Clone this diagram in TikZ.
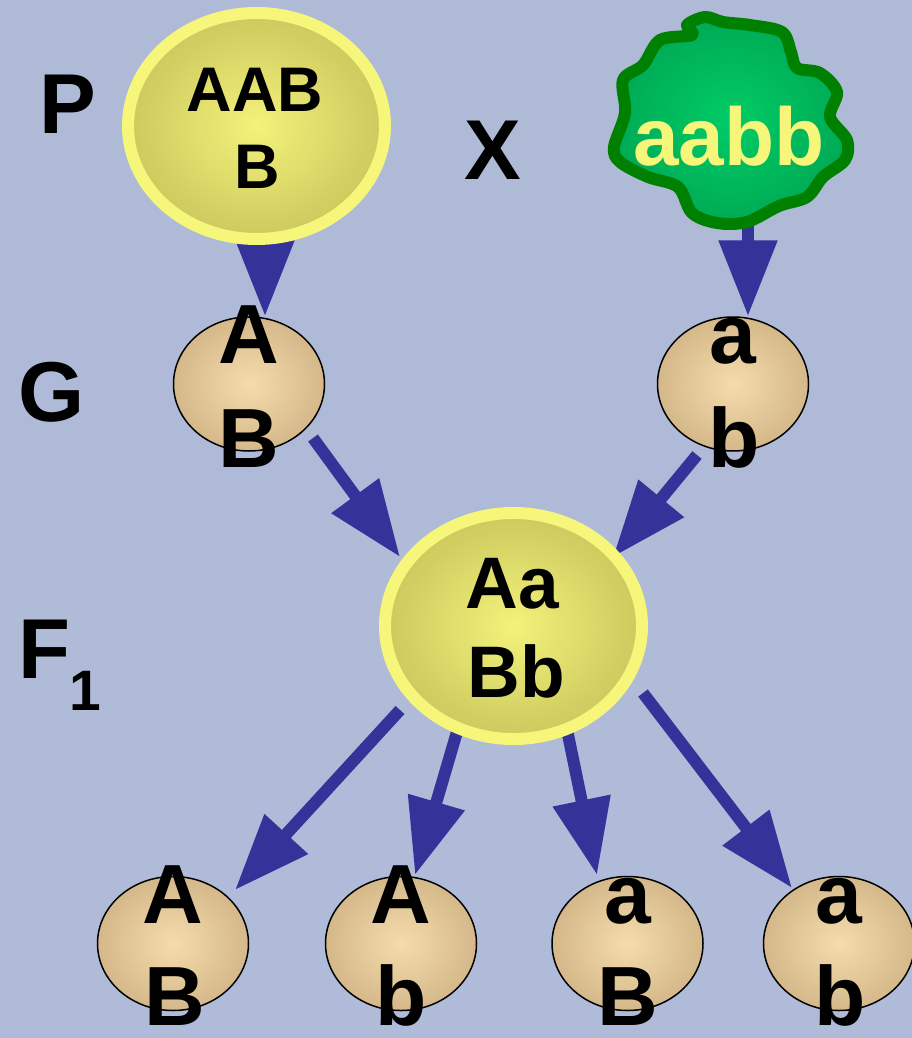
\documentclass[tikz,border=0pt]{standalone}
\usepackage{fontspec}
\setmainfont{Liberation Sans}
\usetikzlibrary{shapes.geometric,arrows.meta,calc}

\definecolor{bgtop}{RGB}{175,186,215}
\definecolor{bgmid}{RGB}{188,198,231}
\definecolor{bgbot}{RGB}{176,187,217}
\definecolor{arrowblue}{RGB}{51,51,153}
\definecolor{ringyellow}{RGB}{246,246,122}
\definecolor{cellin}{RGB}{243,242,122}
\definecolor{cellout}{RGB}{204,201,94}
\definecolor{gamin}{RGB}{246,220,172}
\definecolor{gamout}{RGB}{212,184,138}
\definecolor{cloudin}{RGB}{0,204,102}
\definecolor{cloudout}{RGB}{0,170,85}
\definecolor{cloudedge}{RGB}{0,128,0}
\definecolor{paletext}{RGB}{246,246,122}

\pgfdeclarelayer{back}
\pgfsetlayers{back,main}

\begin{document}
\begin{tikzpicture}[x=1pt,y=-1pt,
  arr/.style={draw=arrowblue, line width=12pt, -{Triangle[length=76pt,width=56pt]}},
  zygote/.style={ellipse, draw=ringyellow, line width=12pt, inner color=cellin,
    outer color=cellout, minimum width=257pt, minimum height=226pt, inner sep=0pt},
  gamete/.style={ellipse, draw=black, line width=1.5pt, inner color=gamin,
    outer color=gamout, minimum width=151pt, minimum height=134pt, inner sep=0pt},
  txt/.style={anchor=base, inner sep=0pt, font=\bfseries\fontsize{#1}{#1}\selectfont}
]
\useasboundingbox (0,0) rectangle (912,1038);
\clip (0,0) rectangle (912,1038);

% backdrop
\begin{pgfonlayer}{back}
  \shade[top color=bgtop, middle color=bgmid, bottom color=bgbot]
    (0,0) rectangle (912,1038);
\end{pgfonlayer}

% parents
\node[zygote] (P) at (256.5,126) {};
\draw[draw=cloudedge, line width=12pt, line join=round, inner color=cloudin, outer color=cloudout]
  plot[smooth cycle, tension=0.55] coordinates {
    (705,17) (723,22) (750,25) (782,32) (791,52) (797,68) (820,73) (837,92)
    (830,117) (847,140) (845,160) (823,177) (807,197) (779,206) (747,222)
    (717,223) (692,213) (678,187) (648,177) (620,162) (614,147) (625,113)
    (623,80) (643,65) (660,40) (692,35) (687,25)};
\coordinate (cloudbase) at (748,200);

% gametes of the parents
\node[gamete] (g1) at (249,384) {};
\node[gamete] (g2) at (733,384) {};

% hybrid
\node[zygote] (f1) at (513.5,626) {};

% gametes of the hybrid
\node[gamete] (b1) at (173,943.5) {};
\node[gamete] (b2) at (401,943.5) {};
\node[gamete] (b3) at (627.5,943.5) {};
\node[gamete] (b4) at (839,943.5) {};

% arrows
\begin{pgfonlayer}{back}
  \draw[arr] ([xshift=8.5pt]P.center) -- ([xshift=16pt]g1.north);
  \draw[arr] (cloudbase) -- ([xshift=15pt]g2.north);
  \draw[arr] ($(g1.center)+(64,54)$) -- ($(f1.center)+(-113.5,-69)$);
  \draw[arr] ($(g2.center)+(-36,71)$) -- ($(f1.center)+(99.5,-69)$);
  \draw[arr] ($(f1.center)+(-113.5,84)$) -- ($(b1.center)+(62,-53.5)$);
  \draw[arr] ($(f1.center)+(-54.5,99)$) -- ($(b2.center)+(14,-68.5)$);
  \draw[arr] ($(f1.center)+(52.5,99)$) -- ($(b3.center)+(-30.5,-68.5)$);
  \draw[arr] ($(f1.center)+(129.5,67)$) -- ($(b4.center)+(-47,-55.5)$);
\end{pgfonlayer}

% generation labels
\node[txt=85] (lp) at (68,134) {P};
\node[txt=85] (lx) at (492.5,179) {X};
\node[txt=85] (lg) at (51.5,421) {G};
\node[txt=85] (lf) at (44,678) {F};
\node[txt=57] (lf1) at (85.5,710) {1};

% genotypes
\node[txt=63] (pt1) at (255,112) {AAB};
\node[txt=63] (pt2) at (257,188) {B};
\node[txt=82, text=paletext] (ct) at (729,165) {aabb};
\node[txt=73] (ft1) at (512.5,608) {Aa};
\node[txt=73] (ft2) at (516,697) {Bb};

% alleles in the gametes
\node[txt=84] (g1a) at (249,363) {A};
\node[txt=84] (g1b) at (249,467) {B};
\node[txt=84] (g2a) at (733,363) {a};
\node[txt=84] (g2b) at (734,467) {b};
\node[txt=84] (b1a) at (173,923) {A};
\node[txt=84] (b1b) at (175,1025) {B};
\node[txt=84] (b2a) at (401,923) {A};
\node[txt=84] (b2b) at (401,1025) {b};
\node[txt=84] (b3a) at (627.5,923) {a};
\node[txt=84] (b3b) at (627.5,1025) {B};
\node[txt=84] (b4a) at (839,923) {a};
\node[txt=84] (b4b) at (840,1025) {b};
\end{tikzpicture}
\end{document}
